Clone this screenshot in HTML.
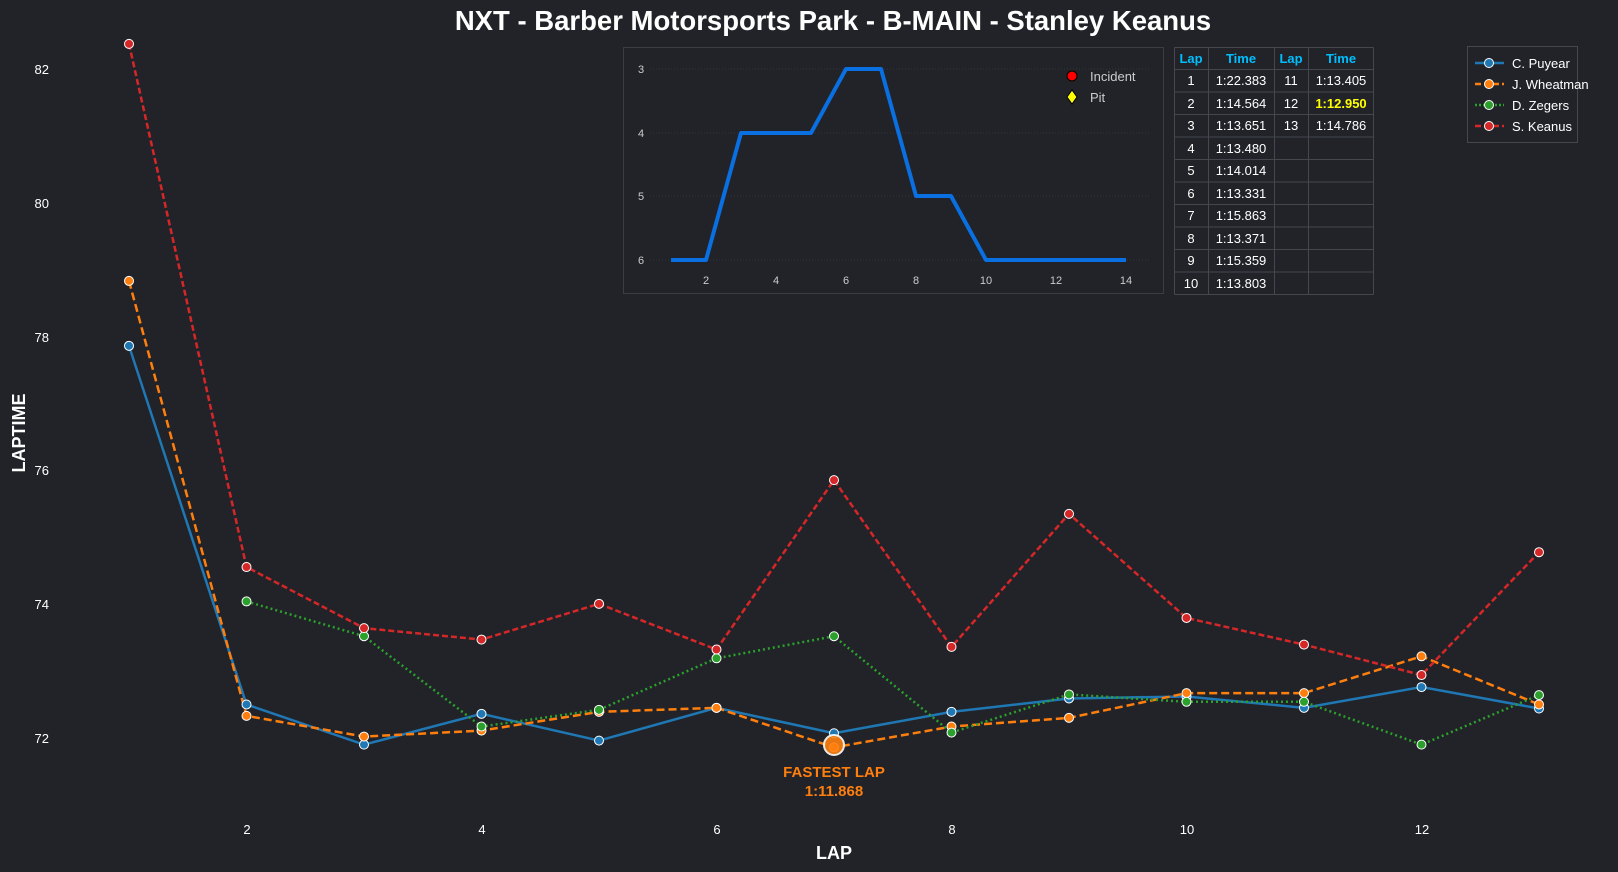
<!DOCTYPE html>
<html><head><meta charset="utf-8"><style>
html,body{margin:0;padding:0;background:#212328;}
svg{display:block;font-family:"Liberation Sans",sans-serif;}
</style></head><body>
<svg id="s" width="1618" height="872" viewBox="0 0 1618 872" xmlns="http://www.w3.org/2000/svg">
<rect width="1618" height="872" fill="#212328"/>
<text x="833" y="30" fill="#fff" font-size="27.5" font-weight="bold" text-anchor="middle">NXT - Barber Motorsports Park - B-MAIN - Stanley Keanus</text>
<g fill="#fff" font-size="13" text-anchor="end">
<text x="49" y="74">82</text><text x="49" y="208">80</text><text x="49" y="342">78</text>
<text x="49" y="475">76</text><text x="49" y="609">74</text><text x="49" y="743">72</text>
</g>
<g fill="#fff" font-size="13" text-anchor="middle">
<text x="247" y="834">2</text><text x="482" y="834">4</text><text x="717" y="834">6</text>
<text x="952" y="834">8</text><text x="1187" y="834">10</text><text x="1422" y="834">12</text>
</g>
<text x="834" y="859" fill="#fff" font-size="18" font-weight="bold" text-anchor="middle">LAP</text>
<text transform="translate(25,433) rotate(-90)" fill="#fff" font-size="18" font-weight="bold" text-anchor="middle">LAPTIME</text>
<g id="series"></g>
<circle cx="834" cy="745" r="10" fill="#ff7f0e" stroke="#fff" stroke-width="2" opacity="0.9"/>
<text x="834" y="777" fill="#ff7f0e" font-size="15" font-weight="bold" text-anchor="middle">FASTEST LAP</text>
<text x="834" y="796" fill="#ff7f0e" font-size="15" font-weight="bold" text-anchor="middle">1:11.868</text>

<!-- inset -->
<rect x="623.5" y="47.5" width="540" height="246" fill="#212328" stroke="#3a3d44" stroke-width="1"/>
<g stroke="#3a3d44" stroke-width="0.8" stroke-dasharray="1,2">
<line x1="650" y1="69" x2="1150" y2="69"/><line x1="650" y1="133" x2="1150" y2="133"/>
<line x1="650" y1="196" x2="1150" y2="196"/><line x1="650" y1="260" x2="1150" y2="260"/>
</g>
<g fill="#ccc" font-size="11" text-anchor="middle">
<text x="641" y="73">3</text><text x="641" y="137">4</text><text x="641" y="200">5</text><text x="641" y="264">6</text>
<text x="706" y="284">2</text><text x="776" y="284">4</text><text x="846" y="284">6</text>
<text x="916" y="284">8</text><text x="986" y="284">10</text><text x="1056" y="284">12</text><text x="1126" y="284">14</text>
</g>
<polyline fill="none" stroke="#0a6fe0" stroke-width="4" stroke-linejoin="round" points="671,260 706,260 741,133 776,133 811,133 846,69 881,69 916,196 951,196 986,260 1021,260 1056,260 1091,260 1126,260"/>
<circle cx="1072" cy="76" r="5" fill="#f00" stroke="#000" stroke-width="1"/>
<path d="M1072,90 L1077,97 L1072,104 L1067,97 Z" fill="#ff0" stroke="#000" stroke-width="1"/>
<text x="1090" y="81" fill="#ccc" font-size="13">Incident</text>
<text x="1090" y="102" fill="#ccc" font-size="13">Pit</text>

<!-- table -->
<g id="tbl" stroke="#44474e" stroke-width="1" fill="none"></g>
<g font-size="13" text-anchor="middle" fill="#fff">
<g fill="#00bfff" font-weight="bold"><text x="1191" y="63">Lap</text><text x="1241" y="63">Time</text><text x="1291" y="63">Lap</text><text x="1341" y="63">Time</text></g>
<text x="1191" y="85">1</text><text x="1241" y="85">1:22.383</text><text x="1291" y="85">11</text><text x="1341" y="85">1:13.405</text>
<text x="1191" y="108">2</text><text x="1241" y="108">1:14.564</text><text x="1291" y="108">12</text><text x="1341" y="108" fill="#ff0" font-weight="bold">1:12.950</text>
<text x="1191" y="130">3</text><text x="1241" y="130">1:13.651</text><text x="1291" y="130">13</text><text x="1341" y="130">1:14.786</text>
<text x="1191" y="153">4</text><text x="1241" y="153">1:13.480</text>
<text x="1191" y="175">5</text><text x="1241" y="175">1:14.014</text>
<text x="1191" y="198">6</text><text x="1241" y="198">1:13.331</text>
<text x="1191" y="220">7</text><text x="1241" y="220">1:15.863</text>
<text x="1191" y="243">8</text><text x="1241" y="243">1:13.371</text>
<text x="1191" y="265">9</text><text x="1241" y="265">1:15.359</text>
<text x="1191" y="288">10</text><text x="1241" y="288">1:13.803</text>
</g>

<!-- legend -->
<rect x="1467.5" y="46.5" width="110" height="96" fill="#212328" stroke="#44474e"/>
<g stroke-width="2.5">
<line x1="1475" y1="63" x2="1504" y2="63" stroke="#1f77b4"/>
<line x1="1475" y1="84" x2="1504" y2="84" stroke="#ff7f0e" stroke-dasharray="6,3"/>
<line x1="1475" y1="105" x2="1504" y2="105" stroke="#2ca02c" stroke-dasharray="2,2"/>
<line x1="1475" y1="126" x2="1504" y2="126" stroke="#d62728" stroke-dasharray="6,3"/>
</g>
<g stroke="#fff" stroke-width="1">
<circle cx="1489" cy="63" r="4.5" fill="#1f77b4"/><circle cx="1489" cy="84" r="4.5" fill="#ff7f0e"/>
<circle cx="1489" cy="105" r="4.5" fill="#2ca02c"/><circle cx="1489" cy="126" r="4.5" fill="#d62728"/>
</g>
<g fill="#fff" font-size="13">
<text x="1512" y="68">C. Puyear</text><text x="1512" y="89">J. Wheatman</text>
<text x="1512" y="110">D. Zegers</text><text x="1512" y="131">S. Keanus</text>
</g>
</svg>
<script>
(function(){
var NS="http://www.w3.org/2000/svg";
function X(l){return 129+(l-1)*117.5;}
function Y(v){return 738.6-(v-72)*66.91;}
var S=[
 {c:"#1f77b4",d:"",s:1,v:[77.87,72.51,71.91,72.37,71.97,72.46,72.08,72.40,72.60,72.63,72.46,72.77,72.45]},
 {c:"#ff7f0e",d:"8,4",s:1,v:[78.84,72.34,72.03,72.12,72.40,72.46,71.868,72.18,72.31,72.68,72.68,73.23,72.51]},
 {c:"#2ca02c",d:"2,3",s:2,v:[74.05,73.53,72.18,72.43,73.20,73.53,72.09,72.66,72.55,72.55,71.91,72.65]},
 {c:"#d62728",d:"6,3",s:1,v:[82.383,74.564,73.651,73.480,74.014,73.331,75.863,73.371,75.359,73.803,73.405,72.950,74.786]}
];
var g=document.getElementById("series");
S.forEach(function(s){
 var pts=s.v.map(function(v,i){return X(i+s.s)+","+Y(v);}).join(" ");
 var p=document.createElementNS(NS,"polyline");
 p.setAttribute("points",pts);p.setAttribute("fill","none");p.setAttribute("stroke",s.c);
 p.setAttribute("stroke-width","2.5");if(s.d)p.setAttribute("stroke-dasharray",s.d);
 g.appendChild(p);
});
S.forEach(function(s){
 s.v.forEach(function(v,i){
  var c=document.createElementNS(NS,"circle");
  c.setAttribute("cx",X(i+s.s));c.setAttribute("cy",Y(v));c.setAttribute("r","4.5");
  c.setAttribute("fill",s.c);c.setAttribute("stroke","#fff");c.setAttribute("stroke-width","1");
  g.appendChild(c);
 });
});
var t=document.getElementById("tbl");
var xs=[1174.5,1208.5,1274.5,1308.5,1373.5];
var ys=[47.5,69.5,92,114.5,137,159.5,182,204.5,227,249.5,272,294.5];
xs.forEach(function(x){var l=document.createElementNS(NS,"line");l.setAttribute("x1",x);l.setAttribute("x2",x);l.setAttribute("y1",ys[0]);l.setAttribute("y2",ys[ys.length-1]);t.appendChild(l);});
ys.forEach(function(y){var l=document.createElementNS(NS,"line");l.setAttribute("x1",xs[0]);l.setAttribute("x2",xs[4]);l.setAttribute("y1",y);l.setAttribute("y2",y);t.appendChild(l);});
})();
</script>
</body></html>
